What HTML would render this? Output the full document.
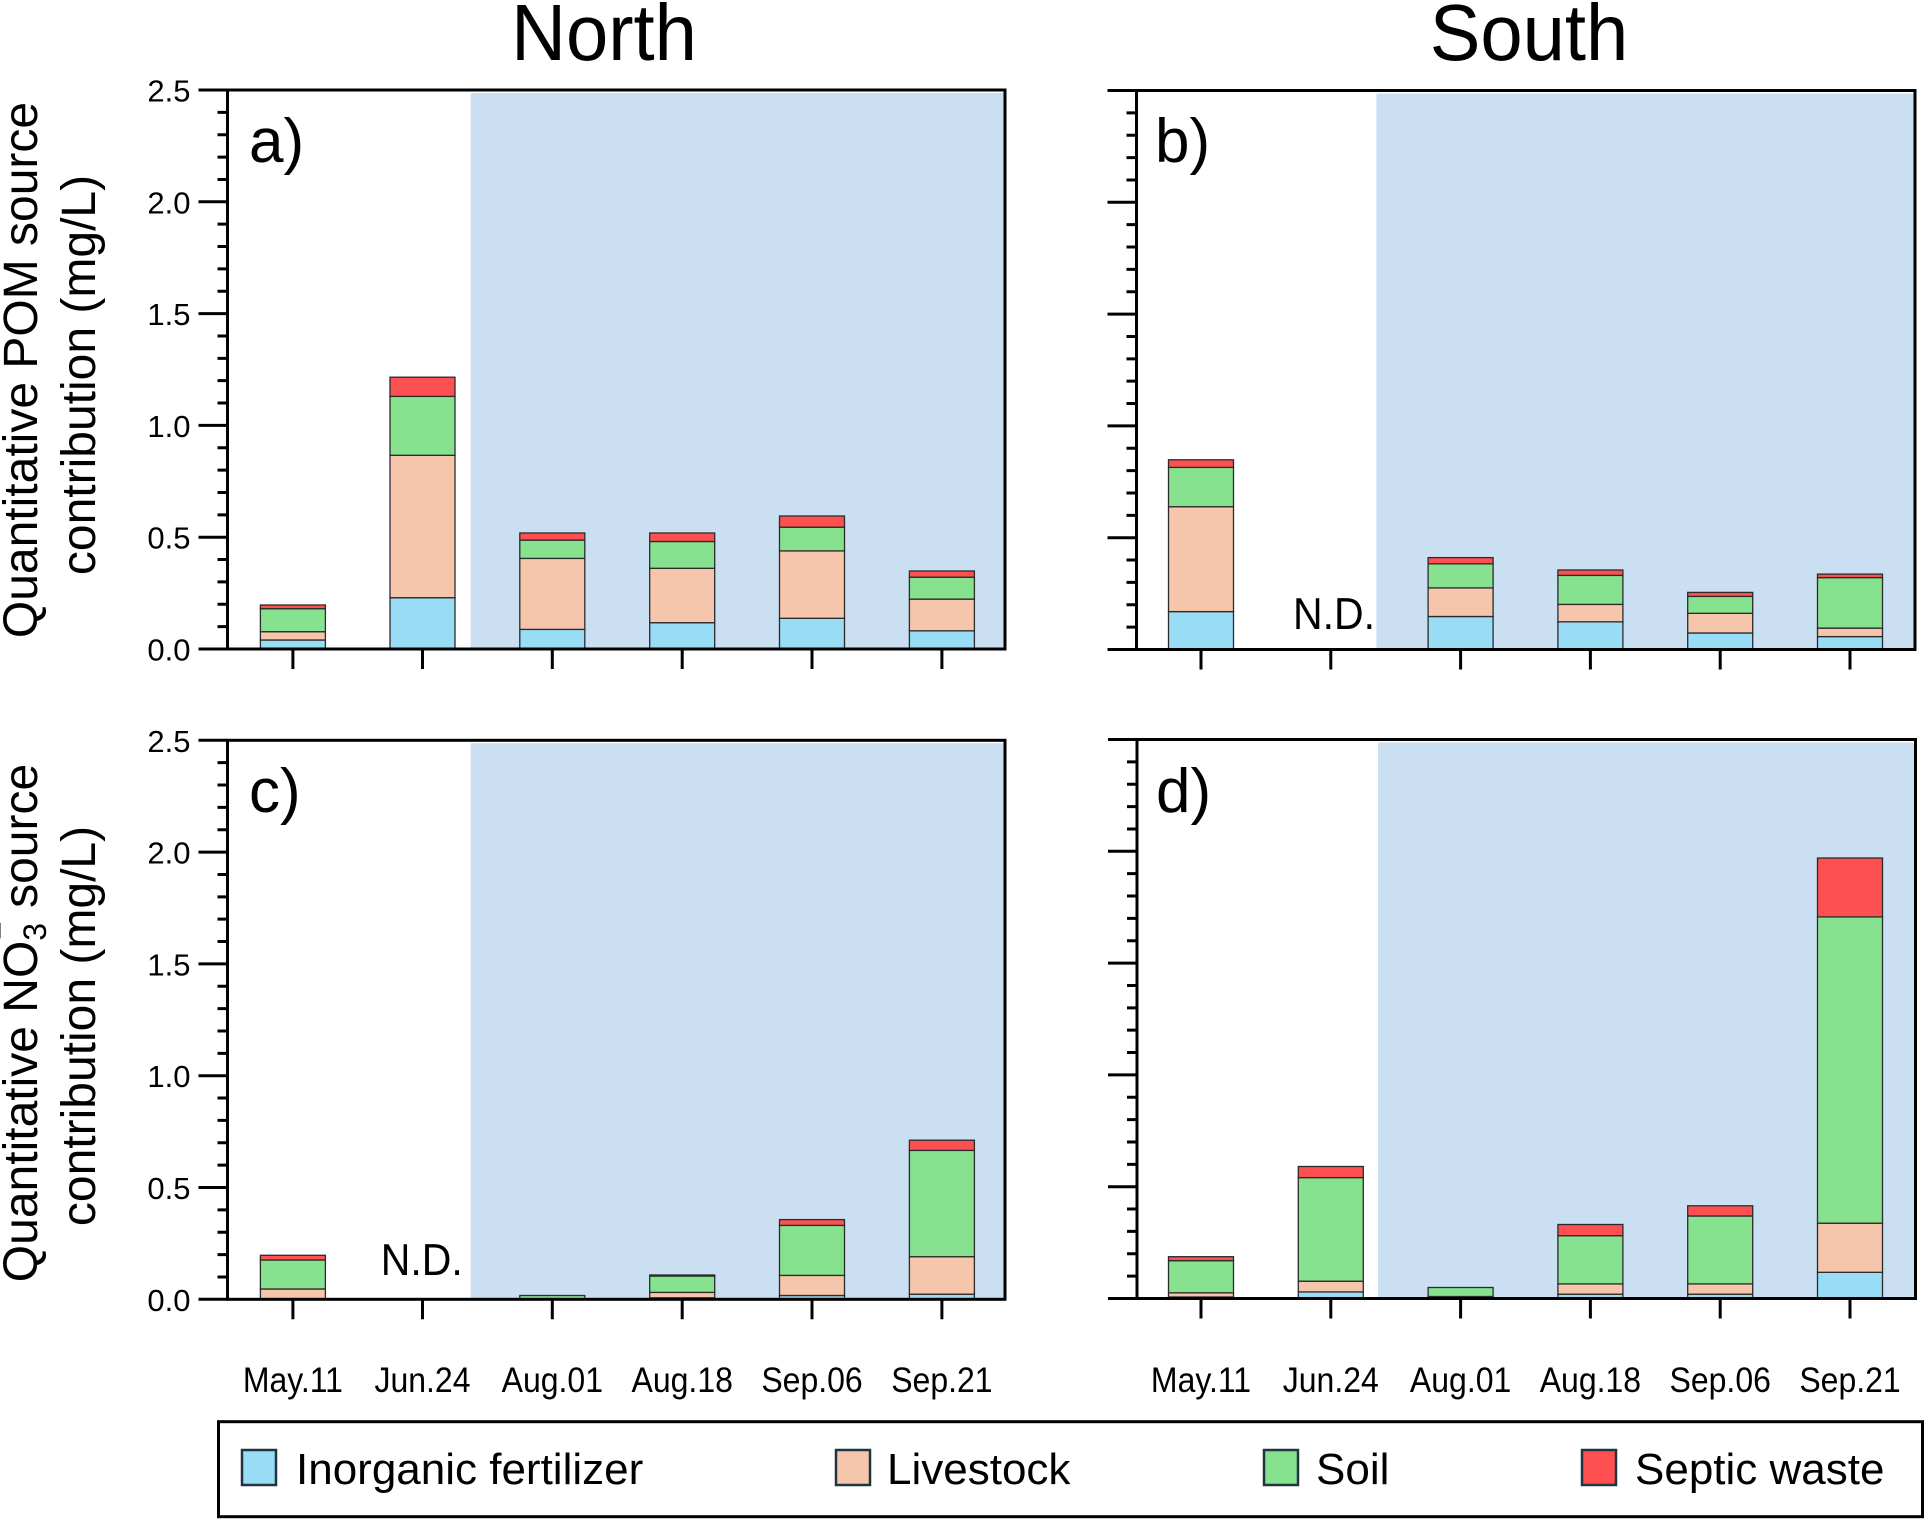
<!DOCTYPE html>
<html>
<head>
<meta charset="utf-8">
<style>
  html, body { margin:0; padding:0; background:#ffffff; }
  svg { display:block; }
  text { font-family: "Liberation Sans", Arial, sans-serif; fill:#000; }
</style>
</head>
<body>
<svg width="1925" height="1519" viewBox="0 0 1925 1519" xmlns="http://www.w3.org/2000/svg">
  <rect x="0" y="0" width="1925" height="1519" fill="#ffffff"/>

  <!-- Titles -->
  <text transform="translate(604,60) scale(1,1.05)" font-size="76" text-anchor="middle">North</text>
  <text transform="translate(1529,60) scale(1,1.05)" font-size="76" text-anchor="middle">South</text>

  <!-- Y axis titles -->
  <text transform="translate(37,370) rotate(-90)" font-size="48" text-anchor="middle">Quantitative POM source</text>
  <text transform="translate(95,375) rotate(-90)" font-size="48" text-anchor="middle">contribution (mg/L)</text>

  <text transform="translate(37,1023) rotate(-90)" font-size="48" text-anchor="middle">Quantitative NO<tspan font-size="32" dy="9">3</tspan><tspan font-size="32" dx="-17" dy="-36">−</tspan><tspan dy="27"> source</tspan></text>
  <text transform="translate(95,1026) rotate(-90)" font-size="48" text-anchor="middle">contribution (mg/L)</text>

  <!-- ============ PANEL A ============ -->
  <g transform="translate(227.5,649)">
    <rect x="243.2" y="-556" width="534.3" height="556" fill="#cadff2"/>
  </g>
  <g stroke="#2b2b2b" stroke-width="1.3">
    <rect x="260.4" y="640" width="65" height="9" fill="#98dcf6"/>
    <rect x="260.4" y="631.7" width="65" height="8.3" fill="#f5c6ab"/>
    <rect x="260.4" y="608.7" width="65" height="23" fill="#87e28f"/>
    <rect x="260.4" y="605" width="65" height="3.7" fill="#fe5050"/>
    <rect x="390" y="597.7" width="65" height="51.3" fill="#98dcf6"/>
    <rect x="390" y="455.3" width="65" height="142.4" fill="#f5c6ab"/>
    <rect x="390" y="396.4" width="65" height="58.9" fill="#87e28f"/>
    <rect x="390" y="377.2" width="65" height="19.2" fill="#fe5050"/>
    <rect x="519.8" y="629.4" width="65" height="19.6" fill="#98dcf6"/>
    <rect x="519.8" y="558.4" width="65" height="71" fill="#f5c6ab"/>
    <rect x="519.8" y="540.1" width="65" height="18.3" fill="#87e28f"/>
    <rect x="519.8" y="533" width="65" height="7.1" fill="#fe5050"/>
    <rect x="649.7" y="622.7" width="65" height="26.3" fill="#98dcf6"/>
    <rect x="649.7" y="568.3" width="65" height="54.4" fill="#f5c6ab"/>
    <rect x="649.7" y="541.5" width="65" height="26.8" fill="#87e28f"/>
    <rect x="649.7" y="533" width="65" height="8.5" fill="#fe5050"/>
    <rect x="779.5" y="618.3" width="65" height="30.7" fill="#98dcf6"/>
    <rect x="779.5" y="550.9" width="65" height="67.4" fill="#f5c6ab"/>
    <rect x="779.5" y="527.2" width="65" height="23.7" fill="#87e28f"/>
    <rect x="779.5" y="516" width="65" height="11.2" fill="#fe5050"/>
    <rect x="909.4" y="630.8" width="65" height="18.2" fill="#98dcf6"/>
    <rect x="909.4" y="599.1" width="65" height="31.7" fill="#f5c6ab"/>
    <rect x="909.4" y="577.2" width="65" height="21.9" fill="#87e28f"/>
    <rect x="909.4" y="571" width="65" height="6.2" fill="#fe5050"/>
  </g>
  <g transform="translate(227.5,649)" stroke="#000" fill="none" stroke-width="3">
    <rect x="0" y="-559" width="777.5" height="559"/>
    <path d="M-29 0H0M-29 -111.8H0M-29 -223.6H0M-29 -335.4H0M-29 -447.2H0M-29 -559H0"/>
    <path d="M-10 -22.36H0M-10 -44.72H0M-10 -67.08H0M-10 -89.44H0M-10 -134.16H0M-10 -156.52H0M-10 -178.88H0M-10 -201.24H0M-10 -245.96H0M-10 -268.32H0M-10 -290.68H0M-10 -313.04H0M-10 -357.76H0M-10 -380.12H0M-10 -402.48H0M-10 -424.84H0M-10 -469.56H0M-10 -491.92H0M-10 -514.28H0M-10 -536.64H0"/>
    <path d="M65.4 0V20M195 0V20M324.8 0V20M454.7 0V20M584.5 0V20M714.4 0V20"/>
  </g>
  <g font-size="31" text-anchor="end">
    <text x="190.5" y="660.5">0.0</text>
    <text x="190.5" y="548.7">0.5</text>
    <text x="190.5" y="436.9">1.0</text>
    <text x="190.5" y="325.1">1.5</text>
    <text x="190.5" y="213.3">2.0</text>
    <text x="190.5" y="101.5">2.5</text>
  </g>
  <text x="249" y="162" font-size="62">a)</text>

  <!-- ============ PANEL B ============ -->
  <g transform="translate(1136.5,649.5)">
    <rect x="239.9" y="-556" width="538.6" height="556" fill="#cadff2"/>
  </g>
  <g stroke="#2b2b2b" stroke-width="1.3">
    <rect x="1168.5" y="611.6" width="65" height="37.9" fill="#98dcf6"/>
    <rect x="1168.5" y="506.7" width="65" height="104.9" fill="#f5c6ab"/>
    <rect x="1168.5" y="467.4" width="65" height="39.3" fill="#87e28f"/>
    <rect x="1168.5" y="459.8" width="65" height="7.6" fill="#fe5050"/>
    <rect x="1428.1" y="616.5" width="65" height="33" fill="#98dcf6"/>
    <rect x="1428.1" y="587.9" width="65" height="28.6" fill="#f5c6ab"/>
    <rect x="1428.1" y="563.8" width="65" height="24.1" fill="#87e28f"/>
    <rect x="1428.1" y="557.6" width="65" height="6.2" fill="#fe5050"/>
    <rect x="1557.9" y="621.8" width="65" height="27.7" fill="#98dcf6"/>
    <rect x="1557.9" y="604.4" width="65" height="17.4" fill="#f5c6ab"/>
    <rect x="1557.9" y="575.4" width="65" height="29" fill="#87e28f"/>
    <rect x="1557.9" y="570" width="65" height="5.4" fill="#fe5050"/>
    <rect x="1687.7" y="633" width="65" height="16.5" fill="#98dcf6"/>
    <rect x="1687.7" y="613.3" width="65" height="19.7" fill="#f5c6ab"/>
    <rect x="1687.7" y="596.4" width="65" height="16.9" fill="#87e28f"/>
    <rect x="1687.7" y="592.4" width="65" height="4" fill="#fe5050"/>
    <rect x="1817.5" y="636.6" width="65" height="12.9" fill="#98dcf6"/>
    <rect x="1817.5" y="628.1" width="65" height="8.5" fill="#f5c6ab"/>
    <rect x="1817.5" y="577.6" width="65" height="50.5" fill="#87e28f"/>
    <rect x="1817.5" y="574.1" width="65" height="3.5" fill="#fe5050"/>
  </g>
  <g transform="translate(1136.5,649.5)" stroke="#000" fill="none" stroke-width="3">
    <rect x="0" y="-559" width="778.5" height="559"/>
    <path d="M-29 0H0M-29 -111.8H0M-29 -223.6H0M-29 -335.4H0M-29 -447.2H0M-29 -559H0"/>
    <path d="M-10 -22.36H0M-10 -44.72H0M-10 -67.08H0M-10 -89.44H0M-10 -134.16H0M-10 -156.52H0M-10 -178.88H0M-10 -201.24H0M-10 -245.96H0M-10 -268.32H0M-10 -290.68H0M-10 -313.04H0M-10 -357.76H0M-10 -380.12H0M-10 -402.48H0M-10 -424.84H0M-10 -469.56H0M-10 -491.92H0M-10 -514.28H0M-10 -536.64H0"/>
    <path d="M64.5 0V20M194.3 0V20M324.1 0V20M453.9 0V20M583.7 0V20M713.5 0V20"/>
  </g>
  <text transform="translate(1375,629) scale(1,1.08)" font-size="41" text-anchor="end">N.D.</text>
  <text x="1155" y="162" font-size="62">b)</text>

  <!-- ============ PANEL C ============ -->
  <g transform="translate(227.5,1299.3)">
    <rect x="243.2" y="-556" width="534.3" height="556" fill="#cadff2"/>
  </g>
  <g stroke="#2b2b2b" stroke-width="1.3">
    <rect x="260.4" y="1289" width="65" height="10.3" fill="#f5c6ab"/>
    <rect x="260.4" y="1260" width="65" height="29" fill="#87e28f"/>
    <rect x="260.4" y="1255.3" width="65" height="4.7" fill="#fe5050"/>
    <rect x="519.8" y="1295.5" width="65" height="3.8" fill="#87e28f"/>
    <rect x="649.7" y="1297.8" width="65" height="1.5" fill="#98dcf6"/>
    <rect x="649.7" y="1292.4" width="65" height="5.4" fill="#f5c6ab"/>
    <rect x="649.7" y="1276" width="65" height="16.4" fill="#87e28f"/>
    <rect x="649.7" y="1275" width="65" height="1" fill="#fe5050"/>
    <rect x="779.5" y="1295.5" width="65" height="3.8" fill="#98dcf6"/>
    <rect x="779.5" y="1275.4" width="65" height="20.1" fill="#f5c6ab"/>
    <rect x="779.5" y="1225.4" width="65" height="50" fill="#87e28f"/>
    <rect x="779.5" y="1219.6" width="65" height="5.8" fill="#fe5050"/>
    <rect x="909.4" y="1294.2" width="65" height="5.1" fill="#98dcf6"/>
    <rect x="909.4" y="1256.7" width="65" height="37.5" fill="#f5c6ab"/>
    <rect x="909.4" y="1150.4" width="65" height="106.3" fill="#87e28f"/>
    <rect x="909.4" y="1140.2" width="65" height="10.2" fill="#fe5050"/>
  </g>
  <g transform="translate(227.5,1299.3)" stroke="#000" fill="none" stroke-width="3">
    <rect x="0" y="-559" width="777.5" height="559"/>
    <path d="M-29 0H0M-29 -111.8H0M-29 -223.6H0M-29 -335.4H0M-29 -447.2H0M-29 -559H0"/>
    <path d="M-10 -22.36H0M-10 -44.72H0M-10 -67.08H0M-10 -89.44H0M-10 -134.16H0M-10 -156.52H0M-10 -178.88H0M-10 -201.24H0M-10 -245.96H0M-10 -268.32H0M-10 -290.68H0M-10 -313.04H0M-10 -357.76H0M-10 -380.12H0M-10 -402.48H0M-10 -424.84H0M-10 -469.56H0M-10 -491.92H0M-10 -514.28H0M-10 -536.64H0"/>
    <path d="M65.4 0V20M195 0V20M324.8 0V20M454.7 0V20M584.5 0V20M714.4 0V20"/>
  </g>
  <g font-size="31" text-anchor="end">
    <text x="190.5" y="1310.8">0.0</text>
    <text x="190.5" y="1199">0.5</text>
    <text x="190.5" y="1087.2">1.0</text>
    <text x="190.5" y="975.4">1.5</text>
    <text x="190.5" y="863.6">2.0</text>
    <text x="190.5" y="751.8">2.5</text>
  </g>
  <text transform="translate(462.7,1275) scale(1,1.08)" font-size="41" text-anchor="end">N.D.</text>
  <text x="249" y="812" font-size="62">c)</text>

  <!-- ============ PANEL D ============ -->
  <g transform="translate(1137,1298.5)">
    <rect x="241" y="-556" width="537.5" height="556" fill="#cadff2"/>
  </g>
  <g stroke="#2b2b2b" stroke-width="1.3">
    <rect x="1168.5" y="1297" width="65" height="1.5" fill="#98dcf6"/>
    <rect x="1168.5" y="1292.8" width="65" height="4.2" fill="#f5c6ab"/>
    <rect x="1168.5" y="1260.7" width="65" height="32.1" fill="#87e28f"/>
    <rect x="1168.5" y="1256.7" width="65" height="4" fill="#fe5050"/>
    <rect x="1298.3" y="1291.9" width="65" height="6.6" fill="#98dcf6"/>
    <rect x="1298.3" y="1281.2" width="65" height="10.7" fill="#f5c6ab"/>
    <rect x="1298.3" y="1177.6" width="65" height="103.6" fill="#87e28f"/>
    <rect x="1298.3" y="1166.5" width="65" height="11.1" fill="#fe5050"/>
    <rect x="1428.1" y="1296.5" width="65" height="2" fill="#98dcf6"/>
    <rect x="1428.1" y="1287.5" width="65" height="9" fill="#87e28f"/>
    <rect x="1557.9" y="1294.2" width="65" height="4.3" fill="#98dcf6"/>
    <rect x="1557.9" y="1283.9" width="65" height="10.3" fill="#f5c6ab"/>
    <rect x="1557.9" y="1235.7" width="65" height="48.2" fill="#87e28f"/>
    <rect x="1557.9" y="1224.5" width="65" height="11.2" fill="#fe5050"/>
    <rect x="1687.7" y="1294.2" width="65" height="4.3" fill="#98dcf6"/>
    <rect x="1687.7" y="1283.9" width="65" height="10.3" fill="#f5c6ab"/>
    <rect x="1687.7" y="1216" width="65" height="67.9" fill="#87e28f"/>
    <rect x="1687.7" y="1205.8" width="65" height="10.2" fill="#fe5050"/>
    <rect x="1817.5" y="1272.3" width="65" height="26.2" fill="#98dcf6"/>
    <rect x="1817.5" y="1223.2" width="65" height="49.1" fill="#f5c6ab"/>
    <rect x="1817.5" y="916.9" width="65" height="306.3" fill="#87e28f"/>
    <rect x="1817.5" y="858" width="65" height="58.9" fill="#fe5050"/>
  </g>
  <g transform="translate(1137,1298.5)" stroke="#000" fill="none" stroke-width="3">
    <rect x="0" y="-559" width="778.5" height="559"/>
    <path d="M-29 0H0M-29 -111.8H0M-29 -223.6H0M-29 -335.4H0M-29 -447.2H0M-29 -559H0"/>
    <path d="M-10 -22.36H0M-10 -44.72H0M-10 -67.08H0M-10 -89.44H0M-10 -134.16H0M-10 -156.52H0M-10 -178.88H0M-10 -201.24H0M-10 -245.96H0M-10 -268.32H0M-10 -290.68H0M-10 -313.04H0M-10 -357.76H0M-10 -380.12H0M-10 -402.48H0M-10 -424.84H0M-10 -469.56H0M-10 -491.92H0M-10 -514.28H0M-10 -536.64H0"/>
    <path d="M64 0V20M193.8 0V20M323.6 0V20M453.4 0V20M583.2 0V20M713 0V20"/>
  </g>
  <text x="1156" y="812" font-size="62">d)</text>

  <!-- X labels -->
  <g font-size="32" text-anchor="middle">
    <text transform="translate(292.9,1392) scale(1,1.1)">May.11</text>
    <text transform="translate(422.5,1392) scale(1,1.1)">Jun.24</text>
    <text transform="translate(552.3,1392) scale(1,1.1)">Aug.01</text>
    <text transform="translate(682.2,1392) scale(1,1.1)">Aug.18</text>
    <text transform="translate(812,1392) scale(1,1.1)">Sep.06</text>
    <text transform="translate(941.9,1392) scale(1,1.1)">Sep.21</text>

    <text transform="translate(1201,1392) scale(1,1.1)">May.11</text>
    <text transform="translate(1330.8,1392) scale(1,1.1)">Jun.24</text>
    <text transform="translate(1460.6,1392) scale(1,1.1)">Aug.01</text>
    <text transform="translate(1590.4,1392) scale(1,1.1)">Aug.18</text>
    <text transform="translate(1720.2,1392) scale(1,1.1)">Sep.06</text>
    <text transform="translate(1850,1392) scale(1,1.1)">Sep.21</text>
  </g>

  <!-- Legend -->
  <rect x="218.5" y="1421.7" width="1704" height="95" fill="#ffffff" stroke="#000" stroke-width="3"/>
  <g stroke="#1f3540" stroke-width="2.5">
    <rect x="242" y="1450" width="34" height="35" fill="#98dcf6"/>
    <rect x="836" y="1450" width="34" height="35" fill="#f5c6ab"/>
    <rect x="1264" y="1450" width="34" height="35" fill="#87e28f"/>
    <rect x="1582" y="1450" width="34" height="35" fill="#fe5050"/>
  </g>
  <g font-size="44">
    <text x="296" y="1484">Inorganic fertilizer</text>
    <text x="887" y="1484">Livestock</text>
    <text x="1316" y="1484">Soil</text>
    <text x="1635" y="1484">Septic waste</text>
  </g>
</svg>
</body>
</html>
